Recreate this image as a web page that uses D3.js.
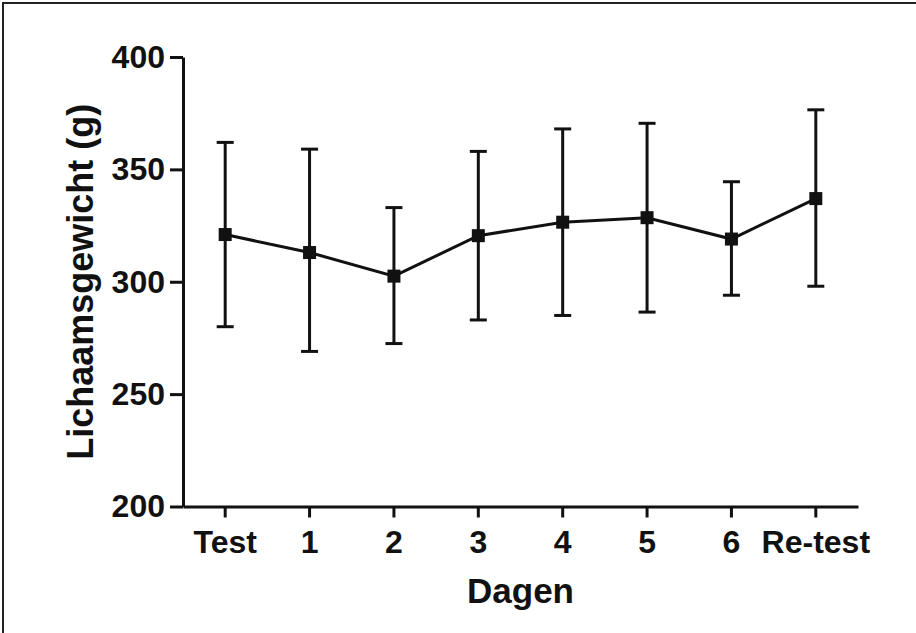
<!DOCTYPE html>
<html>
<head>
<meta charset="utf-8">
<script src="https://cdn.jsdelivr.net/npm/d3@7"></script>
<style>
  html, body { margin: 0; padding: 0; background: #fff; }
  svg { display: block; }
  text { font-family: "Liberation Sans", Arial, Helvetica, sans-serif; font-weight: bold; fill: #111; }
</style>
</head>
<body>
<svg id="chart" width="916" height="633"></svg>
<script>
// ---- data ----
const categories = ["Test", "1", "2", "3", "4", "5", "6", "Re-test"];
const means  = [321, 313, 302.5, 320.5, 326.5, 328.5, 319, 337];
const upper  = [362, 359, 333, 358, 368, 370.5, 344.5, 376.5];
const lower  = [280, 269, 272.5, 283, 285, 286.5, 294, 298];
const yTicks = [200, 250, 300, 350, 400];
const xTitle = "Dagen";
const yTitle = "Lichaamsgewicht (g)";

// ---- layout ----
const svg = d3.select("#chart");
const W = 916, H = 633;
const plot = { left: 183, right: 858, top: 57, bottom: 506.5 };
const ink = "#111";

// frame (top and left edges)
svg.append("path")
  .attr("d", `M3,${H} L3,3 L${W},3`)
  .attr("fill", "none").attr("stroke", "#222").attr("stroke-width", 2);

const x = d3.scaleBand().domain(categories).range([plot.left, plot.right]).paddingInner(0).paddingOuter(0);
const y = d3.scaleLinear().domain([200, 400]).range([plot.bottom, plot.top]);
const cx = c => x(c) + x.bandwidth() / 2;

// y axis
const yAxis = svg.append("g").attr("transform", `translate(${plot.left},0)`)
  .call(d3.axisLeft(y).tickValues(yTicks).tickSize(13).tickPadding(5).tickSizeOuter(0));
yAxis.select(".domain").attr("stroke", ink).attr("stroke-width", 3);
yAxis.selectAll(".tick line").attr("stroke", ink).attr("stroke-width", 3);
yAxis.selectAll(".tick text").attr("font-size", 32).attr("fill", ink)
  .style("font-family", '"Liberation Sans", Arial, sans-serif').style("font-weight", "bold");

// x axis
const xAxis = svg.append("g").attr("transform", `translate(0,${plot.bottom})`)
  .call(d3.axisBottom(x).tickSize(11).tickPadding(13).tickSizeOuter(0));
xAxis.select(".domain").attr("stroke", ink).attr("stroke-width", 3);
xAxis.selectAll(".tick line").attr("stroke", ink).attr("stroke-width", 3);
xAxis.selectAll(".tick text").attr("font-size", 32).attr("fill", ink)
  .style("font-family", '"Liberation Sans", Arial, sans-serif').style("font-weight", "bold");

// axis titles
svg.append("text")
  .attr("x", (plot.left + plot.right) / 2).attr("y", 603)
  .attr("text-anchor", "middle").attr("font-size", 35).text(xTitle);
svg.append("text")
  .attr("transform", `translate(93,${(plot.top + plot.bottom) / 2}) rotate(-90)`)
  .attr("text-anchor", "middle").attr("font-size", 36).text(yTitle);

// error bars
const data = categories.map((c, i) => ({ c, m: means[i], hi: upper[i], lo: lower[i] }));
const capW = 17;
const eb = svg.append("g").attr("stroke", ink).attr("stroke-width", 3);
data.forEach(d => {
  eb.append("line").attr("x1", cx(d.c)).attr("x2", cx(d.c)).attr("y1", y(d.hi)).attr("y2", y(d.lo));
  eb.append("line").attr("x1", cx(d.c) - capW / 2).attr("x2", cx(d.c) + capW / 2).attr("y1", y(d.hi)).attr("y2", y(d.hi));
  eb.append("line").attr("x1", cx(d.c) - capW / 2).attr("x2", cx(d.c) + capW / 2).attr("y1", y(d.lo)).attr("y2", y(d.lo));
});

// mean line
svg.append("path").datum(data)
  .attr("d", d3.line().x(d => cx(d.c)).y(d => y(d.m)))
  .attr("fill", "none").attr("stroke", ink).attr("stroke-width", 3);

// markers
const ms = 13;
svg.append("g").selectAll("rect").data(data).join("rect")
  .attr("x", d => cx(d.c) - ms / 2).attr("y", d => y(d.m) - ms / 2)
  .attr("width", ms).attr("height", ms).attr("fill", ink);
</script>
</body>
</html>
